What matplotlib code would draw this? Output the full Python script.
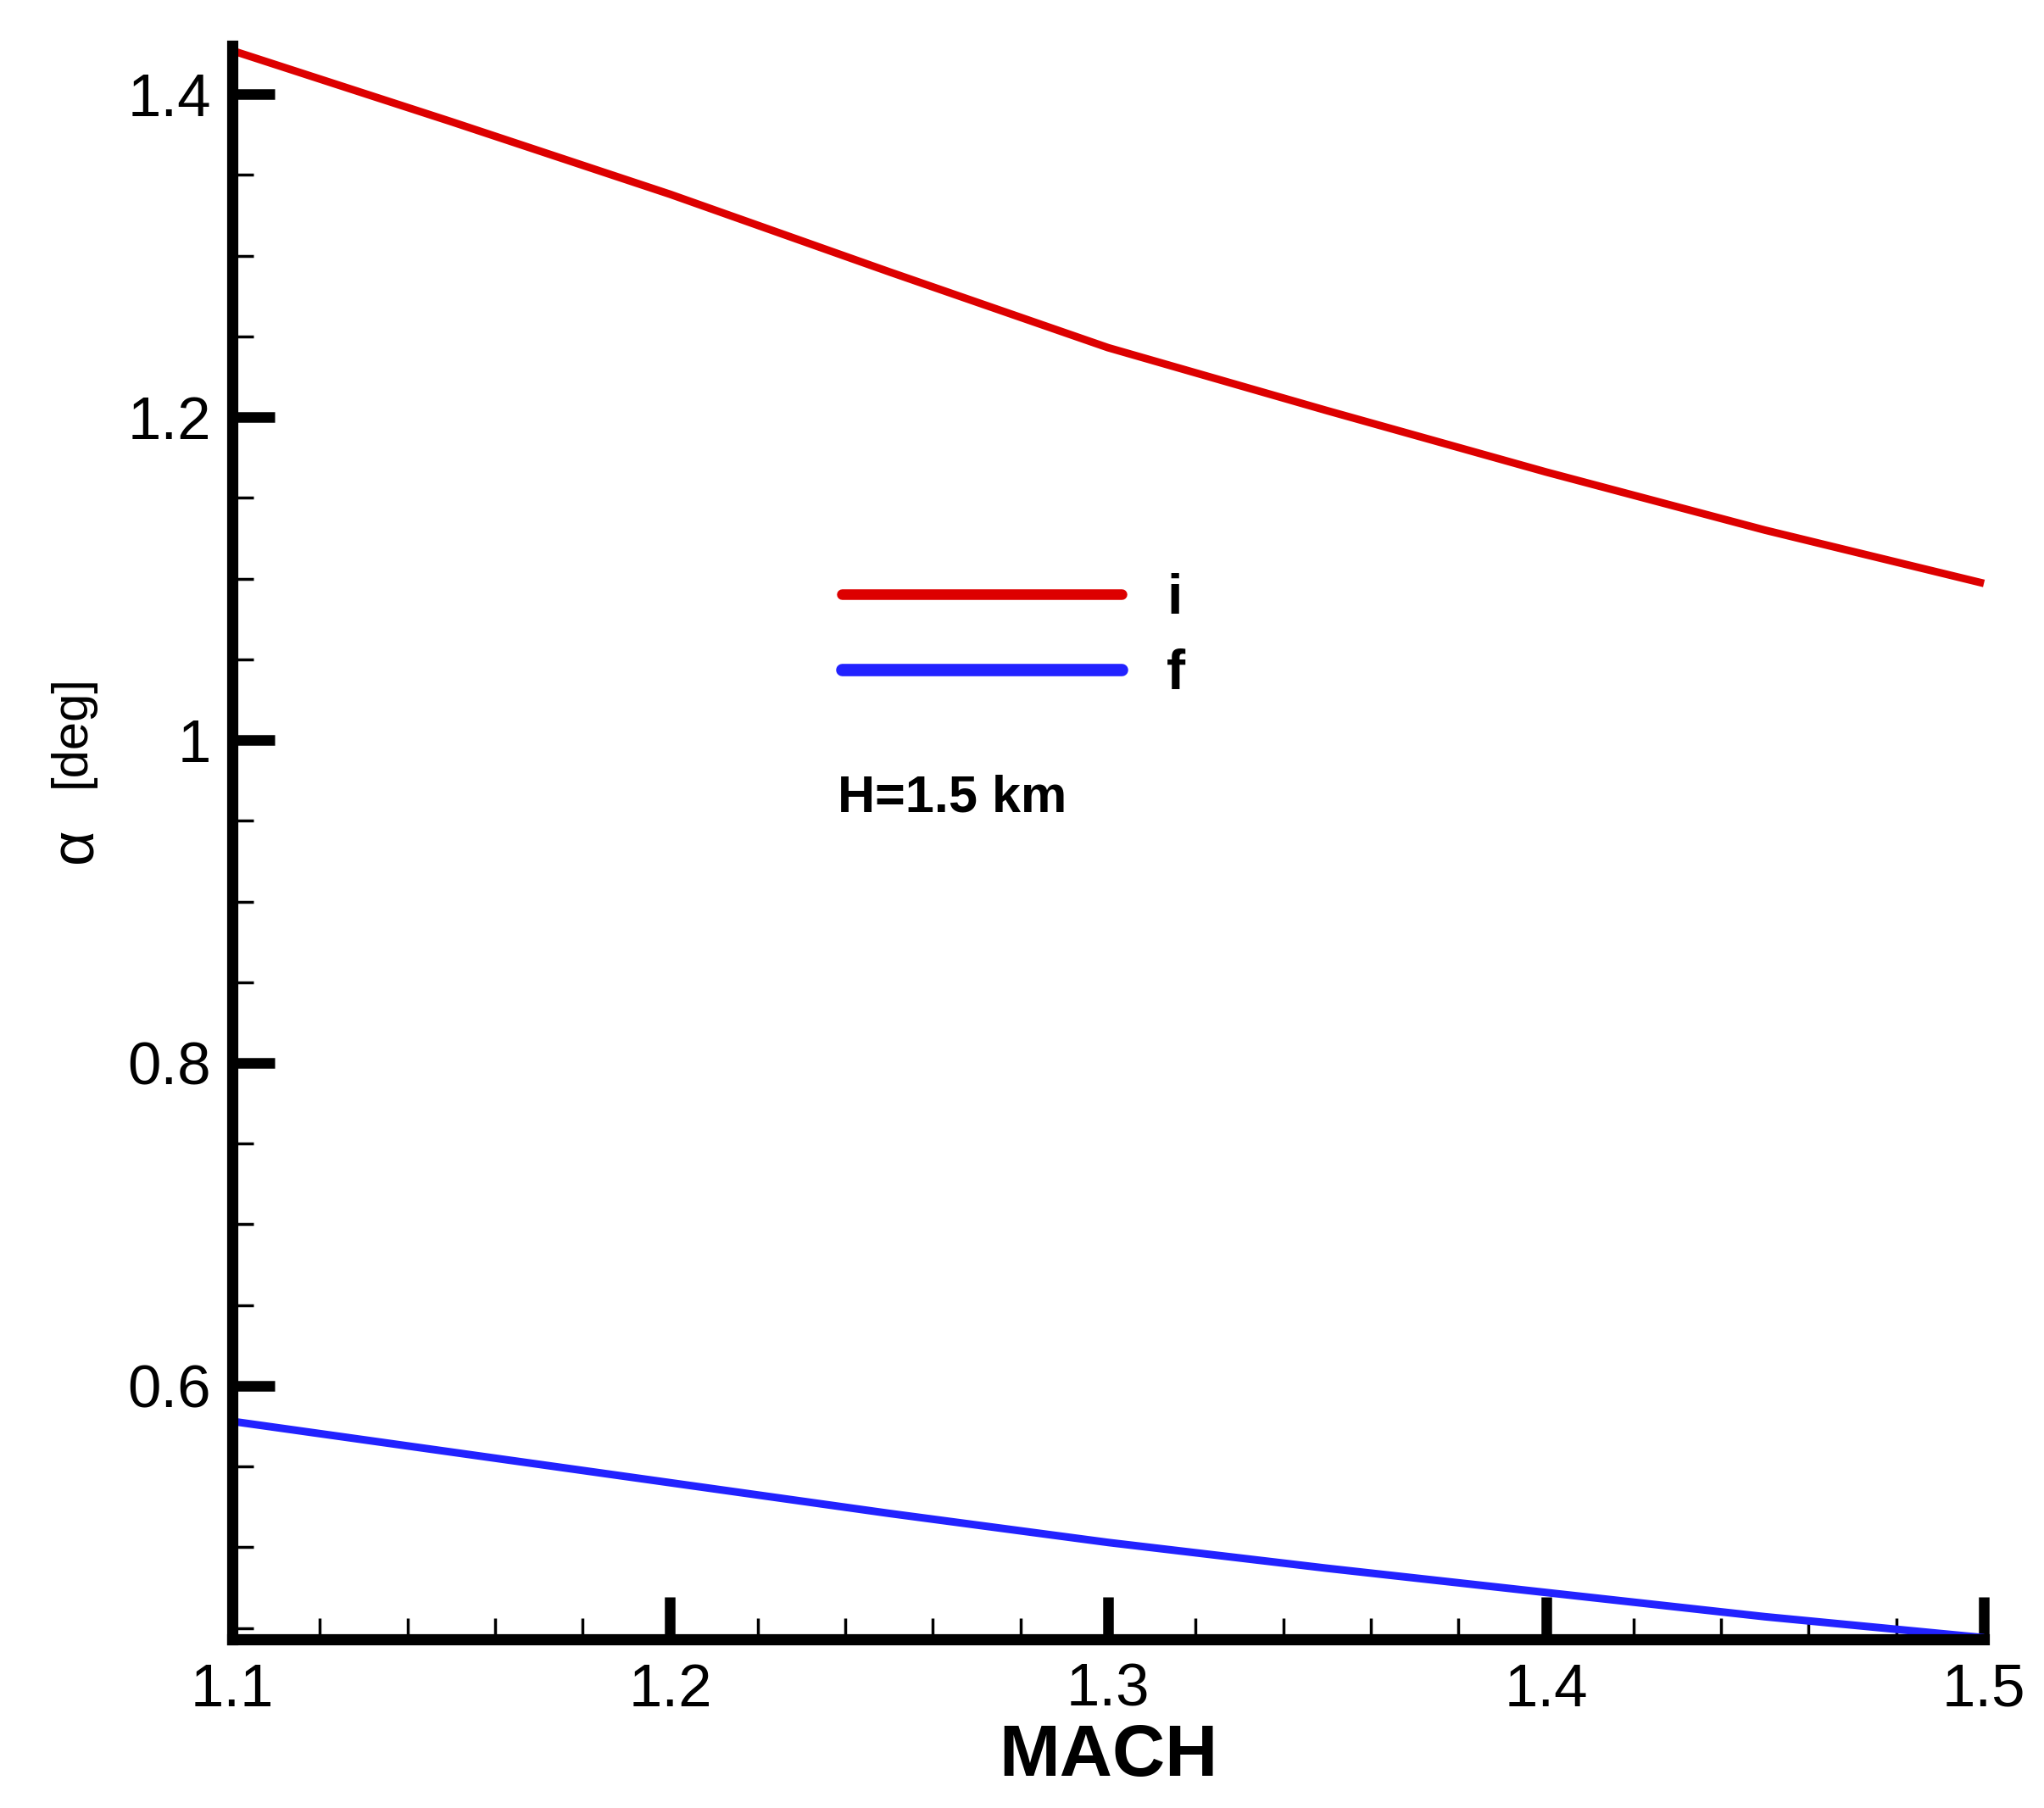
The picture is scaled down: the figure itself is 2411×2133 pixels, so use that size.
import matplotlib
matplotlib.use("Agg")
import matplotlib.pyplot as plt
from matplotlib.lines import Line2D
from matplotlib.ticker import MultipleLocator

machValues = [1.10, 1.15, 1.20, 1.25, 1.30, 1.35, 1.40, 1.45, 1.50]
alphaI = [1.427, 1.383, 1.338, 1.290, 1.243, 1.204, 1.166, 1.130, 1.097]
alphaF = [0.578, 0.559, 0.540, 0.521, 0.503, 0.487, 0.472, 0.457, 0.444]
seriesLabels = ["i", "f"]
xTicks = [1.1, 1.2, 1.3, 1.4, 1.5]
xTickLabels = ["1.1", "1.2", "1.3", "1.4", "1.5"]
yTicks = [0.6, 0.8, 1.0, 1.2, 1.4]
yTickLabels = ["0.6", "0.8", "1", "1.2", "1.4"]

redColor = "#dd0000"
blueColor = "#2222ff"

plt.rcParams['font.family'] = ['Liberation Sans', 'DejaVu Sans']

fig = plt.figure(figsize=(24.11, 21.33), dpi=100)
ax = fig.add_axes([0.1136, 0.0933, 0.857, 0.8814])

ax.plot(machValues, alphaI, color=redColor, linewidth=6.5, solid_capstyle='butt',
        solid_joinstyle='round', clip_on=False)
ax.plot(machValues, alphaF, color=blueColor, linewidth=6.5, solid_capstyle='butt',
        solid_joinstyle='round', clip_on=False)

ax.set_xlim(1.1, 1.5)
ax.set_ylim(0.443, 1.43)

# only left and bottom axis lines, heavy like the original
for side in ['top', 'right']:
    ax.spines[side].set_visible(False)
for side in ['left', 'bottom']:
    ax.spines[side].set_linewidth(9.5)
    ax.spines[side].set_capstyle('projecting')

ax.set_xticks(xTicks)
ax.set_xticklabels(xTickLabels)
ax.set_yticks(yTicks)
ax.set_yticklabels(yTickLabels)
ax.xaxis.set_minor_locator(MultipleLocator(0.02))
ax.yaxis.set_minor_locator(MultipleLocator(0.05))

ax.tick_params(which='major', direction='in', length=36, width=9, labelsize=51, pad=20)
ax.tick_params(which='minor', direction='in', length=18, width=2.5)
ax.tick_params(axis='y', which='major', pad=18)

ax.set_xlabel("MACH", fontsize=62, fontweight='bold', labelpad=4)

# y label: greek alpha a bit larger than the unit text
fig.text(90 / 2411, 1 - 997 / 2133, "\u03b1", rotation=90, fontsize=52,
         ha='center', va='center')
fig.text(84 / 2411, 1 - 863 / 2133, "[deg]", rotation=90, fontsize=43,
         ha='center', va='center')

legendHandles = [Line2D([], [], color=redColor, linewidth=9, solid_capstyle='round'),
                 Line2D([], [], color=blueColor, linewidth=10.5, solid_capstyle='round')]
ax.legend(legendHandles, seriesLabels, loc='upper left', bbox_to_anchor=(0.348, 0.669),
          frameon=False, borderpad=0, borderaxespad=0, handlelength=4.95,
          handletextpad=0.8, labelspacing=0.4,
          prop={'size': 48, 'weight': 'bold'})

ax.text(0.3456, 0.5277, "H=1.5 km", transform=ax.transAxes, fontsize=44,
        fontweight='bold', ha='left', va='center')

fig.savefig("out.png", dpi=100, facecolor='white')
